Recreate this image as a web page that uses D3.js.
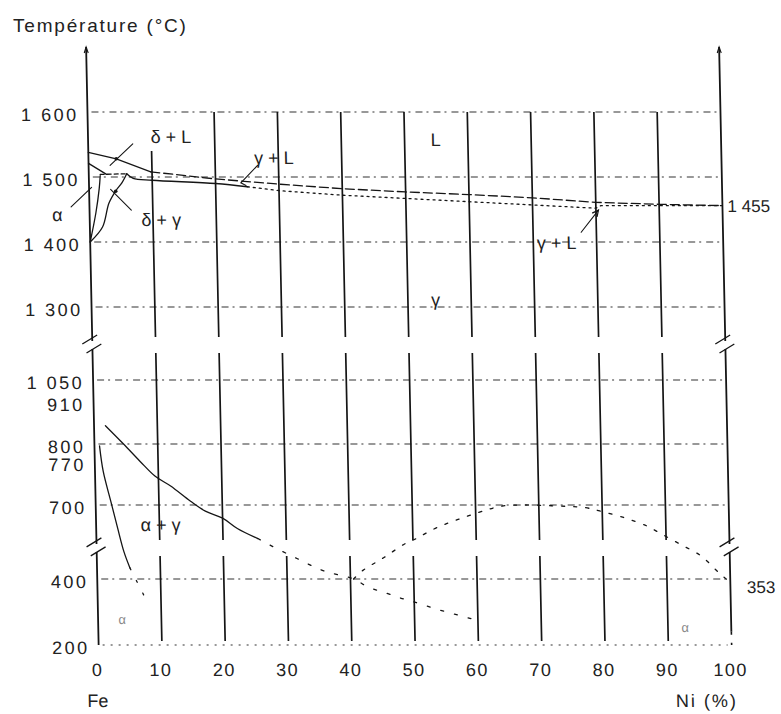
<!DOCTYPE html>
<html>
<head>
<meta charset="utf-8">
<script src="https://cdn.jsdelivr.net/npm/d3@7"></script>
<style>
  body { margin: 0; background: #fff; }
  svg text { font-family: "Liberation Sans", Arial, sans-serif; fill: #222; }
</style>
</head>
<body>
<svg id="chart" width="781" height="714"></svg>
<script>
// ---- data (Ni %, °C) ----
const niTicks    = [0, 10, 20, 30, 40, 50, 60, 70, 80, 90, 100];
const tempTicks  = [1600, 1500, 1400, 1300, 1050, 910, 800, 770, 700, 400, 200];
const gridTemps  = [1600, 1500, 1400, 1300, 1050, 800, 700, 400, 200];
const breakTemps = [1170, 526];

const liquidus     = [[0,1538],[4.4,1528],[9.8,1508],[20,1497],[30,1489],[40,1482],[50,1477],[60,1473],[70,1468],[80,1461],[90,1458],[100,1456]];
const solidus      = [[6.0,1505],[7,1498],[10,1495],[20,1490],[25,1485],[30,1479],[40,1472],[50,1467],[60,1462],[70,1457],[80,1452],[80.8,1456],[90,1456],[100,1456]];
const deltaSolidus = [[0,1521],[2.8,1504]];
const peritectic   = [[1.8,1504],[6.0,1505]];
const deltaGamma   = [[0,1400],[1.0,1445],[1.6,1482],[1.8,1502]];
const gammaDelta   = [[0,1400],[2.0,1423],[3.1,1460],[4.3,1480],[5.2,1491],[6.0,1505]];
const alphaGamma   = [[1.8,848],[4.6,800],[7.2,771],[9.5,747],[11.9,731],[15.0,706],[17.3,675],[20.0,647],[22.3,605],[25.5,564],[27.2,540],[31.7,482],[35.8,433],[40.5,400],[42.8,375],[45.2,360],[47.4,345],[49.7,332],[54,306],[59.5,277]];
const alphaSolvus  = [[0.8,797],[1.3,755],[2.4,706],[3.4,605],[4.3,511],[5.2,445],[7.3,351]];
const curie        = [[40.5,400],[42.0,435],[45.3,486],[48.6,541],[50.3,561],[53.8,608],[60.4,669],[64.2,696],[67.5,700],[72,697],[77.4,689],[79.6,676],[83.4,649],[87.0,615],[88.9,588],[92.2,541],[95.5,493],[98.2,426],[100,390]];

const phaseLabels = [
  ["δ + L", 13.1, 1561], ["L", 54.9, 1557], ["γ + L", 29.3, 1529], ["α", -5.1, 1442],
  ["δ + γ", 11.3, 1434], ["γ", 54.4, 1311], ["γ + L", 73.7, 1398], ["α + γ", 10.2, 618]
];
const faintLabels = [["α", 3.8, 277], ["α", 92.7, 252]];
const leaders = [
  [[7.05,1551],[3.4,1518]],
  [[6.6,1449],[3.4,1481]],
  [[-2.9,1454],[0.4,1484]],
  [[26.7,1518],[24.0,1491],[24.8,1487]],
  [[77.6,1415],[80.4,1449]]
];
const leaderDots = [[4.4,1528],[4.2,1478]];
const endValues  = [[1455, 100.8, 1455], [353, 102.6, 375]];

// ---- scales ----
const svg = d3.select("#chart");
const x = d3.scaleLinear().domain([0, 100]).range([93, 726]);
const y = d3.scaleLinear()
  .domain([200, 400, 700, 800, 910, 1050, 1300, 1400, 1500, 1600, 1700])
  .range([645, 579, 505, 444, 402, 380, 307, 242, 177, 112, 47]);

const frFormat = d3.formatLocale({decimal: ",", thousands: "\u00a0", grouping: [3], currency: ["", " €"]}).format(",d");

// the scan is slightly sheared: lean everything a little
const plot = svg.append("g")
  .attr("transform", "translate(0,376) skewX(1.2) translate(0,-376)");

const ink = "#151515";
const yb = breakTemps.map(y);

function splitSeg(y0, y1, gap) {
  const segs = [];
  let s = y0;
  yb.forEach(b => { if (b > y0 && b < y1) { segs.push([s, b - gap]); s = b + gap; } });
  segs.push([s, y1]);
  return segs;
}

// horizontal grid
plot.append("g").selectAll("line")
  .data(gridTemps)
  .join("line")
    .attr("x1", x(0) + 4).attr("x2", x(100) - 4)
    .attr("y1", d => y(d)).attr("y2", d => y(d))
    .attr("stroke", "#333").attr("stroke-width", 1.1)
    .attr("stroke-dasharray", d => d === 200 ? "2 6" : "7 4 2 5");

// vertical grid
plot.append("g").selectAll("path")
  .data(niTicks.slice(1, -1))
  .join("path")
    .attr("d", d => splitSeg(y(d === 10 ? 1540 : 1600), y(212), 8)
      .map(s => `M${x(d)},${s[0]}V${s[1]}`).join(""))
    .attr("stroke", ink).attr("stroke-width", 1.7).attr("fill", "none");

// Fe and Ni axes
[0, 100].forEach(n => {
  const bottom = n === 0 ? y(200) : y(240);
  plot.append("path")
    .attr("d", splitSeg(y(1700), bottom, 4).map(s => `M${x(n)},${s[0]}V${s[1]}`).join(""))
    .attr("stroke", ink).attr("stroke-width", 1.8).attr("fill", "none");
  if (n === 100) {
    plot.append("line").attr("x1", x(n)).attr("x2", x(n)).attr("y1", bottom).attr("y2", y(200))
      .attr("stroke", ink).attr("stroke-width", 1.6).attr("stroke-dasharray", "3 8");
  }
  // little arrow tip
  plot.append("path")
    .attr("d", `M${x(n) - 2},${y(1700) + 6}L${x(n)},${y(1700)}L${x(n) + 2},${y(1700) + 6}`)
    .attr("stroke", ink).attr("stroke-width", 1.1).attr("fill", "none");
  // break marks
  yb.forEach(b => {
    plot.append("path")
      .attr("d", `M${x(n) - 10},${b - 1}L${x(n) + 5},${b - 10}M${x(n) - 6},${b + 8}L${x(n) + 9},${b - 1}`)
      .attr("stroke", ink).attr("stroke-width", 1.3).attr("fill", "none");
  });
});

// ---- phase boundaries ----
const straight = d3.line().x(d => x(d[0])).y(d => y(d[1]));
const smooth = d3.line().x(d => x(d[0])).y(d => y(d[1])).curve(d3.curveCatmullRom.alpha(0.5));

function draw(pts, gen, dash, w) {
  plot.append("path")
    .attr("d", gen(pts))
    .attr("fill", "none")
    .attr("stroke", ink)
    .attr("stroke-width", w || 1.3)
    .attr("stroke-dasharray", dash || null)
    .attr("stroke-linecap", "round");
}

draw(liquidus.filter(d => d[0] <= 9.8), straight);
draw(liquidus.filter(d => d[0] >= 9.8), straight, "9 4");
draw(solidus.filter(d => d[0] <= 25), smooth);
draw(solidus.filter(d => d[0] >= 25), straight, "2 4");
draw(deltaSolidus, straight);
draw(peritectic, straight, "4 3");
draw(deltaGamma, smooth);
draw(gammaDelta, smooth);
draw(alphaGamma.filter(d => d[0] <= 25.5), smooth);
draw(alphaGamma.filter(d => d[0] >= 25.5), smooth, "3 11");
draw(alphaSolvus.filter(d => d[0] <= 5.2), smooth);
draw(alphaSolvus.filter(d => d[0] >= 5.2), smooth, "2 12");
draw(curie, smooth, "3 9");

// leaders
leaders.forEach(l => draw(l, straight, null, 1.1));
plot.append("g").selectAll("circle")
  .data(leaderDots)
  .join("circle")
    .attr("cx", d => x(d[0])).attr("cy", d => y(d[1])).attr("r", 1.8)
    .attr("fill", ink);
// arrow head on the lower γ + L leader
const tip = leaders[4][1], tail = leaders[4][0];
const ang = Math.atan2(y(tip[1]) - y(tail[1]), x(tip[0]) - x(tail[0]));
plot.append("path")
  .attr("d", `M${x(tip[0]) - 7 * Math.cos(ang - 0.45)},${y(tip[1]) - 7 * Math.sin(ang - 0.45)}L${x(tip[0])},${y(tip[1])}L${x(tip[0]) - 7 * Math.cos(ang + 0.45)},${y(tip[1]) - 7 * Math.sin(ang + 0.45)}`)
  .attr("stroke", ink).attr("stroke-width", 1.2).attr("fill", "none");

// ---- labels ----
plot.append("g").selectAll("text")
  .data(phaseLabels)
  .join("text")
    .attr("x", d => x(d[1])).attr("y", d => y(d[2]))
    .attr("text-anchor", "middle").attr("dominant-baseline", "central")
    .style("font-size", "18px")
    .text(d => d[0]);

plot.append("g").selectAll("text")
  .data(faintLabels)
  .join("text")
    .attr("x", d => x(d[1])).attr("y", d => y(d[2]))
    .attr("text-anchor", "middle").attr("dominant-baseline", "central")
    .style("font-size", "13px").style("fill", "#888")
    .text(d => d[0]);

plot.append("g").selectAll("text")
  .data(endValues)
  .join("text")
    .attr("x", d => x(d[1])).attr("y", d => y(d[2]))
    .attr("dominant-baseline", "central")
    .style("font-size", "17px")
    .text(d => frFormat(d[0]));

// y axis labels
plot.append("g")
  .attr("transform", `translate(${x(0)},0)`)
  .call(d3.axisLeft(y).tickValues(tempTicks).tickFormat(frFormat).tickSize(0).tickPadding(9))
  .call(g => g.select(".domain").remove())
  .call(g => g.selectAll("text")
    .attr("y", 2).attr("dy", "0.35em").attr("fill", "#222")
    .style("font-size", "18px").style("letter-spacing", "2.5px"));

// x axis labels
plot.append("g")
  .attr("transform", "translate(0,670)")
  .call(d3.axisBottom(x).tickValues(niTicks).tickSize(0).tickPadding(0))
  .call(g => g.select(".domain").remove())
  .call(g => g.selectAll("text")
    .attr("y", 0).attr("dx", -2).attr("dy", "0.35em").attr("fill", "#222")
    .style("font-size", "18px").style("letter-spacing", "1.5px"));

plot.append("text")
  .attr("x", x(0) - 2).attr("y", 701)
  .attr("text-anchor", "middle").attr("dominant-baseline", "central")
  .style("font-size", "18px")
  .text("Fe");

plot.append("text")
  .attr("x", x(100) + 5).attr("y", 701)
  .attr("text-anchor", "end").attr("dominant-baseline", "central")
  .style("font-size", "18px").style("letter-spacing", "2px")
  .text("Ni (%)");

svg.append("text")
  .attr("x", 13).attr("y", 25)
  .attr("dominant-baseline", "central")
  .style("font-size", "19px").style("letter-spacing", "1.8px")
  .text("Température (°C)");
</script>
</body>
</html>
